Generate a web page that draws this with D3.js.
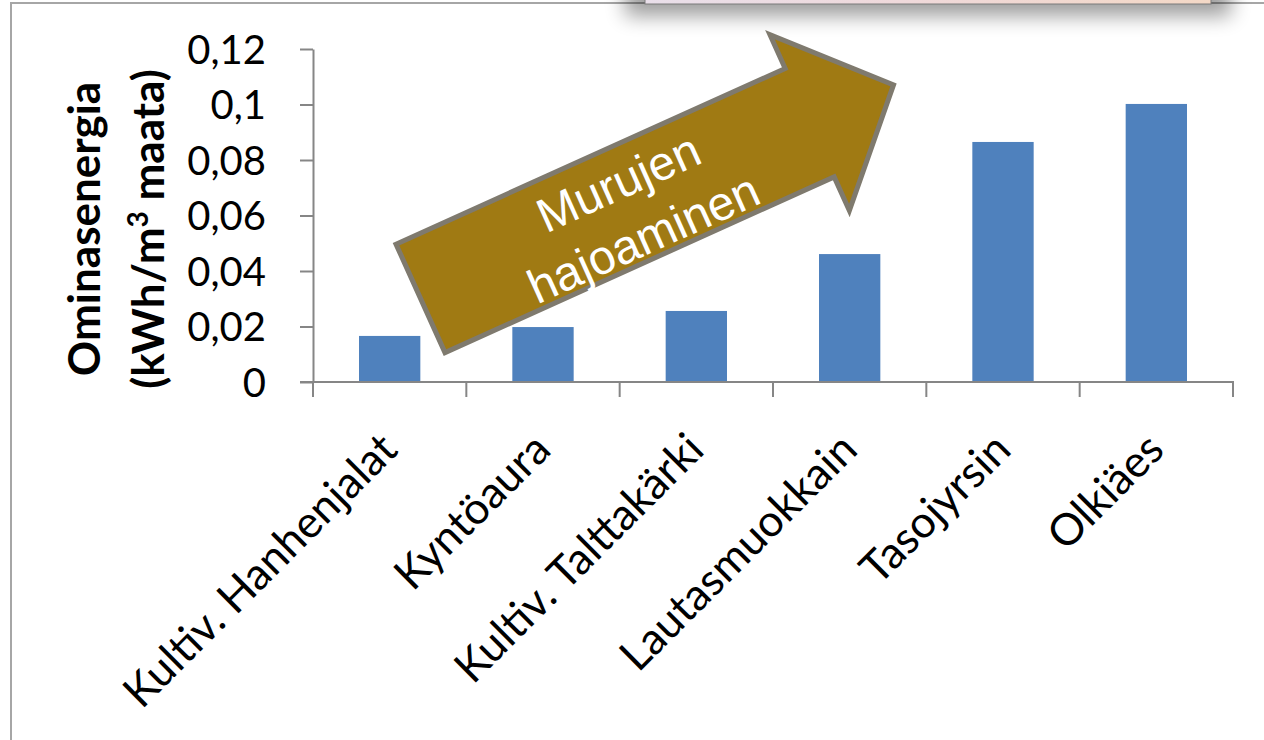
<!DOCTYPE html>
<html>
<head>
<meta charset="utf-8">
<script src="https://cdn.jsdelivr.net/npm/d3@7"></script>
<style>
  html, body { margin: 0; padding: 0; background: #ffffff; }
  svg { display: block; }
</style>
</head>
<body>
<svg id="chart" width="1264" height="740"></svg>
<script>
// ---- data ----
const categories = ["Kultiv. Hanhenjalat", "Kyntöaura", "Kultiv. Talttakärki", "Lautasmuokkain", "Tasojyrsin", "Olkiäes"];
const values = [0.0166, 0.0198, 0.0256, 0.0461, 0.0865, 0.1002];
const yTickValues = [0, 0.02, 0.04, 0.06, 0.08, 0.1, 0.12];
const yTickLabels = ["0", "0,02", "0,04", "0,06", "0,08", "0,1", "0,12"];
const yTitleLines = ["Ominasenergia", "(kWh/m", "3", " maata)"];
const arrowLines = ["Murujen", "hajoaminen"];

// ---- layout ----
const W = 1264, H = 740;
const plot = { left: 313, right: 1233, top: 49, bottom: 382 };
const axisColor = "#868686";
const barColor = "#4F81BD";

const svg = d3.select("#chart");
const defs = svg.append("defs");

// gradient + shadow for the slide box at the top
const grad = defs.append("linearGradient").attr("id", "boxGrad").attr("x1", "0").attr("x2", "1").attr("y1", "0").attr("y2", "0");
grad.append("stop").attr("offset", "0").attr("stop-color", "#e9dfea");
grad.append("stop").attr("offset", "0.45").attr("stop-color", "#efd9db");
grad.append("stop").attr("offset", "1").attr("stop-color", "#f3d8c6");
const shadow = defs.append("filter").attr("id", "boxShadow").attr("x", "-20%").attr("y", "-100%").attr("width", "140%").attr("height", "400%");
shadow.append("feGaussianBlur").attr("stdDeviation", 10);

// chart frame
svg.append("rect")
  .attr("x", 11).attr("y", 3).attr("width", W + 20).attr("height", H + 20)
  .attr("fill", "none").attr("stroke", "#a6a6a6").attr("stroke-width", 2);

// shadow + box at the top
svg.append("rect")
  .attr("x", 625).attr("y", -30).attr("width", 606).attr("height", 46)
  .attr("fill", "#000").attr("opacity", 0.38).attr("filter", "url(#boxShadow)");
svg.append("rect")
  .attr("x", 645).attr("y", -20).attr("width", 566).attr("height", 24)
  .attr("fill", "url(#boxGrad)").attr("stroke", "#7a7a7a").attr("stroke-width", 1);

// ---- scales ----
const x = d3.scaleBand().domain(categories).range([plot.left, plot.right]).paddingInner(0.6).paddingOuter(0.3);
const y = d3.scaleLinear().domain([0, 0.12]).range([plot.bottom, plot.top]);

// ---- y axis ----
const yAxis = d3.axisLeft(y)
  .tickValues(yTickValues)
  .tickSize(13)
  .tickSizeOuter(0)
  .tickPadding(34)
  .tickFormat((d, i) => yTickLabels[i]);
const gy = svg.append("g").attr("transform", `translate(${plot.left},0)`).call(yAxis);
gy.select(".domain").attr("stroke", axisColor).attr("stroke-width", 2);
gy.selectAll(".tick line").attr("stroke", axisColor).attr("stroke-width", 2);
gy.selectAll(".tick text")
  .attr("font-family", "Lato, 'Open Sans', sans-serif")
  .attr("font-size", 40)
  .attr("fill", "#000")
  .attr("dy", "0.36em");

// ---- bars ----
svg.append("g").selectAll("rect")
  .data(values)
  .join("rect")
  .attr("x", (d, i) => x(categories[i]))
  .attr("y", d => y(d))
  .attr("width", x.bandwidth())
  .attr("height", d => y(0) - y(d))
  .attr("fill", barColor);

// ---- x axis ----
const boundaries = d3.range(categories.length + 1).map(i => plot.left + i * x.step());
const gx = svg.append("g");
gx.append("line")
  .attr("x1", plot.left - 13).attr("x2", plot.right + 1)
  .attr("y1", y(0)).attr("y2", y(0))
  .attr("stroke", axisColor).attr("stroke-width", 2);
gx.selectAll("line.tk")
  .data(boundaries)
  .join("line")
  .attr("class", "tk")
  .attr("x1", d => d).attr("x2", d => d)
  .attr("y1", y(0)).attr("y2", y(0) + 15)
  .attr("stroke", axisColor).attr("stroke-width", 2);

gx.selectAll("text.cat")
  .data(categories)
  .join("text")
  .attr("class", "cat")
  .attr("transform", d => `translate(${x(d) + x.bandwidth() / 2 + 10},${y(0) + 70}) rotate(-45)`)
  .attr("text-anchor", "end")
  .attr("font-family", "Lato, 'Open Sans', sans-serif")
  .attr("font-size", 44)
  .attr("fill", "#000")
  .text(d => d);

// ---- y title ----
const yTitle = svg.append("text")
  .attr("transform", `translate(100,229) rotate(-90)`)
  .attr("text-anchor", "middle")
  .attr("font-family", "Lato, 'Open Sans', sans-serif")
  .attr("font-weight", "bold")
  .attr("font-size", 44)
  .attr("fill", "#000");
yTitle.append("tspan").attr("x", 0).attr("y", 0).text(yTitleLines[0]);
const l2 = yTitle.append("tspan").attr("x", 0).attr("y", 64);
l2.append("tspan").text(yTitleLines[1]);
l2.append("tspan").attr("dy", -16).attr("font-size", 28).text(yTitleLines[2]);
l2.append("tspan").attr("dy", 16).text(yTitleLines[3]);

// ---- annotation arrow ----
const arrow = { cx: 420.5, cy: 298.4, angle: -24.3, shaftLen: 427, shaftW: 119, headLen: 92, headW: 193 };
const pts = [
  [0, -arrow.shaftW / 2], [arrow.shaftLen, -arrow.shaftW / 2], [arrow.shaftLen, -arrow.headW / 2],
  [arrow.shaftLen + arrow.headLen, 0],
  [arrow.shaftLen, arrow.headW / 2], [arrow.shaftLen, arrow.shaftW / 2], [0, arrow.shaftW / 2]
];
const ga = svg.append("g").attr("transform", `translate(${arrow.cx},${arrow.cy}) rotate(${arrow.angle})`);
ga.append("path")
  .attr("d", d3.line()(pts) + "Z")
  .attr("fill", "#A07A13")
  .attr("stroke", "#7F7A6E")
  .attr("stroke-width", 5)
  .attr("stroke-linejoin", "miter");
ga.selectAll("text")
  .data(arrowLines)
  .join("text")
  .attr("x", 228)
  .attr("y", (d, i) => i === 0 ? -24 : 37)
  .attr("text-anchor", "middle")
  .attr("dominant-baseline", "central")
  .attr("font-family", "'Liberation Sans', Arial, sans-serif")
  .attr("font-size", 48)
  .attr("fill", "#ffffff")
  .text(d => d);
</script>
</body>
</html>
